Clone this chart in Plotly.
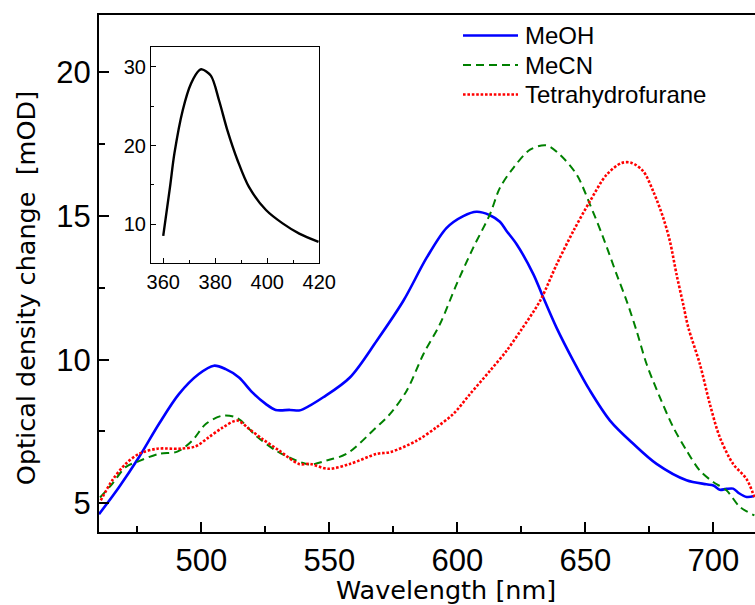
import plotly.graph_objects as go

# ---- data ----
meoh_x = [460, 467.8, 475.6, 483.4, 491.2, 499, 504.9, 509.5, 514.7, 519.9, 525.1, 529, 534.6, 538.1, 539.8,
          547.6, 558, 568.5, 578.9, 588, 595.8, 602.3, 607.5, 612.7, 616.6, 619.2, 623.2, 629.7, 633, 638.8,
          645.3, 651.8, 659.6, 668.7, 677.8, 689.5, 697.3, 700, 702.5, 705, 707.7, 710, 713, 716]
meoh_y = [4.62, 5.56, 6.6, 7.76, 8.8, 9.5, 9.79, 9.67, 9.38, 8.86, 8.46, 8.25, 8.25, 8.23, 8.28,
          8.69, 9.38, 10.66, 12.05, 13.55, 14.59, 15.0, 15.15, 15.03, 14.8, 14.48, 14.01, 12.97, 12.28, 11.1,
          9.96, 8.92, 7.88, 7.07, 6.37, 5.8, 5.66, 5.62, 5.47, 5.5, 5.51, 5.35, 5.22, 5.25]

mecn_x = [460.4, 465.2, 470.4, 475.6, 483.4, 490.6, 496.4, 501.7, 508.2, 514, 521.2, 529, 536.8, 542.4,
          548.9, 556.7, 568.4, 573.7, 580.2, 586.7, 593.2, 599.7, 606.2, 612.7, 616.6, 621.8, 628.4, 634.8,
          640, 646.6, 651.8, 657, 662.2, 666.1, 670, 673.9, 679.1, 684.3, 689.5, 694.7, 699.9, 705.1, 710.4, 716]
mecn_y = [5.2, 5.68, 6.26, 6.47, 6.72, 6.8, 7.18, 7.76, 8.05, 7.97, 7.36, 6.84, 6.5, 6.35,
          6.49, 6.72, 7.65, 8.11, 8.92, 10.19, 11.24, 12.63, 13.9, 15.06, 15.98, 16.67, 17.31, 17.46,
          17.14, 16.44, 15.4, 14.24, 12.97, 12.05, 11.0, 9.85, 8.69, 7.65, 6.84, 6.14, 5.74, 5.45, 4.87, 4.58]

thf_x = [460.7, 465.2, 470.4, 475.6, 482.8, 491.2, 497.7, 502.9, 508.2, 514, 518.6, 523.8, 530.3, 538.1,
         542.4, 549.6, 558, 568.5, 573.7, 584.1, 591.9, 598.4, 604.9, 612.7, 619.2, 625.1, 632.3, 638.8,
         645.3, 651.8, 658.3, 664.2, 668.1, 672.6, 676.5, 680.4, 683, 685.6, 688.2, 690.2, 694.7, 698.6,
         702.5, 707.7, 712.9, 716]
thf_y = [5.1, 5.8, 6.37, 6.72, 6.9, 6.9, 6.98, 7.3, 7.63, 7.88, 7.59, 7.24, 6.84, 6.37,
         6.37, 6.2, 6.37, 6.72, 6.78, 7.18, 7.65, 8.11, 8.8, 9.61, 10.31, 11.06, 12.05, 13.32,
         14.48, 15.52, 16.44, 16.85, 16.85, 16.56, 15.86, 14.94, 14.13, 12.97, 11.93, 11.12, 9.85, 8.46,
         7.3, 6.37, 5.85, 5.22]

inset_x = [360, 362.6, 364.3, 367.5, 370.7, 373.9, 374.9, 378.3, 381.5, 384.7, 388.6, 393, 399.5, 405.9, 412.3, 419.7]
inset_y = [8.5, 14.7, 19.0, 24.5, 27.9, 29.6, 29.7, 28.9, 25.7, 21.9, 18.1, 14.7, 11.8, 10.1, 8.8, 7.75]

series_names = ["MeOH", "MeCN", "Tetrahydrofurane"]
x_title = "Wavelength [nm]"
y_title = "Optical density change\u00a0\u00a0[mOD]"

# ---- layout constants (pixels) ----
W, H = 755, 605
L, T, R, B = 99, 15, 0, 73.3
PW, PH = W - L - R, H - T - B


def px(x):
    return (x - L) / PW


def py(y):
    return (H - B - y) / PH


TICKFONT = dict(family="Arial, Liberation Sans, sans-serif", size=31, color="black")
TITLEFONT = dict(family="DejaVu Sans, Verdana, sans-serif", size=25.5, color="black")
INSETFONT = dict(family="Arial, Liberation Sans, sans-serif", size=20, color="black")

styles = [
    dict(color="#0000ff", width=2.6, dash="solid"),
    dict(color="#008000", width=2.0, dash="8px,5px"),
    dict(color="#ff0000", width=2.6, dash="2.6px,1.8px"),
]

fig = go.Figure()
for name, xs, ys, st in zip(series_names, [meoh_x, mecn_x, thf_x], [meoh_y, mecn_y, thf_y], styles):
    fig.add_trace(go.Scatter(x=xs, y=ys, mode="lines", name=name,
                             line=dict(shape="spline", smoothing=0.9, **st),
                             showlegend=False, xaxis="x", yaxis="y"))

fig.add_trace(go.Scatter(x=inset_x, y=inset_y, mode="lines",
                         line=dict(color="black", width=2.4, shape="spline", smoothing=0.9),
                         showlegend=False, xaxis="x2", yaxis="y2"))

inset_dom_x = [px(151), px(319.3)]
inset_dom_y = [py(263.3), py(47.3)]

common = dict(showgrid=False, zeroline=False, automargin=False, tickcolor="black", linecolor="black", showline=True)

fig.update_layout(
    template="none",
    width=W, height=H,
    margin=dict(l=L, r=R, t=T, b=B, pad=0),
    paper_bgcolor="white", plot_bgcolor="white",
    showlegend=False,
    xaxis=dict(range=[460, 460 + PW / 2.56], tick0=500, dtick=50, ticks="inside", ticklen=10, tickwidth=2,
               linewidth=2, mirror=True, tickfont=TICKFONT,
               minor=dict(ticks="inside", ticklen=6, tickwidth=2, tickcolor="black", dtick=25, tick0=475, showgrid=False),
               **common),
    yaxis=dict(range=[4, 22], tick0=5, dtick=5, ticks="inside", ticklen=10, tickwidth=2,
               linewidth=2, mirror=False, tickfont=TICKFONT,
               minor=dict(ticks="inside", ticklen=6, tickwidth=2, tickcolor="black", dtick=2.5, tick0=5, showgrid=False),
               **common),
    xaxis2=dict(domain=inset_dom_x, anchor="y2", range=[355.3, 420], tick0=360, dtick=20, ticks="inside", ticklen=5,
                tickwidth=1.2, linewidth=1.2, mirror=True, tickfont=INSETFONT,
                minor=dict(ticks="inside", ticklen=3, tickwidth=1.2, tickcolor="black", dtick=10, tick0=370, showgrid=False),
                **common),
    yaxis2=dict(domain=inset_dom_y, anchor="x2", range=[5, 32.5], tick0=10, dtick=10, ticks="inside", ticklen=5,
                tickwidth=1.2, linewidth=1.2, mirror=True, tickfont=INSETFONT,
                minor=dict(ticks="inside", ticklen=3, tickwidth=1.2, tickcolor="black", dtick=5, tick0=5, showgrid=False),
                **common),
)

# axis titles
fig.add_annotation(text=y_title, xref="paper", yref="paper", x=px(26), y=py(288), xanchor="center", yanchor="middle",
                   textangle=-90, showarrow=False, font=TITLEFONT)
fig.add_annotation(text=x_title, xref="paper", yref="paper", x=px(446), y=py(590), xanchor="center", yanchor="middle",
                   showarrow=False, font=TITLEFONT)

# legend (drawn manually)
LEGFONT = dict(family="Arial, Liberation Sans, sans-serif", size=24, color="black")
for i, (name, st) in enumerate(zip(series_names, styles)):
    yy = 35.5 + 29.5 * i
    fig.add_shape(type="line", xref="paper", yref="paper", x0=px(463), x1=px(518), y0=py(yy), y1=py(yy),
                  line=dict(color=st["color"], width=st["width"], dash=st["dash"]))
    fig.add_annotation(text=name, xref="paper", yref="paper", x=px(523), y=py(yy), xanchor="left", yanchor="middle",
                       showarrow=False, font=LEGFONT)

fig.write_html("out.html")
